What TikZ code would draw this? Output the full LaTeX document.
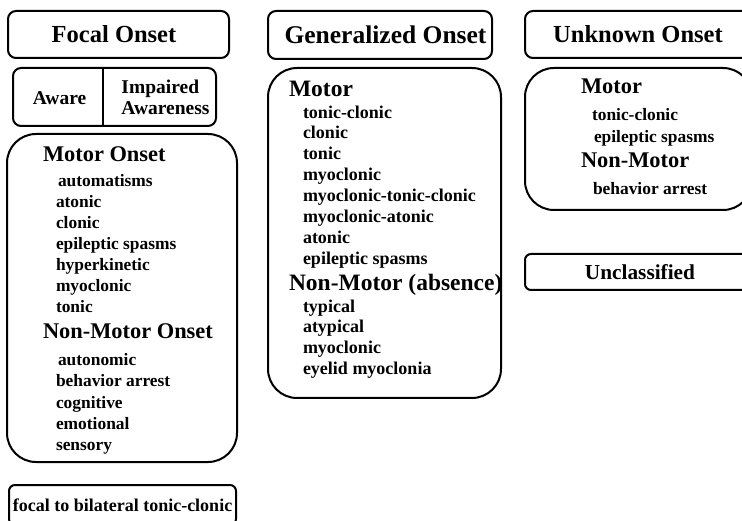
\documentclass[tikz,border=0pt]{standalone}
\usepackage{fontspec}
\setmainfont{Liberation Serif}
\usepackage{tikz}
\usetikzlibrary{positioning}

\newcommand{\sz}[1]{\fontsize{#1}{#1}\selectfont\bfseries}

\begin{document}
\begin{tikzpicture}[x=1pt, y=-1pt, line width=2pt]
        \tikzstyle{title} = [rectangle, draw, rounded corners=8pt, inner sep=0pt, font=\sz{24.5}]
        \tikzstyle{group} = [rectangle, draw, rounded corners=29pt, inner sep=0pt]
        \tikzstyle{head} = [anchor=base west, inner sep=0pt, font=\sz{22.4}]
        \tikzstyle{item} = [anchor=base west, inner sep=0pt, font=\sz{17.4}]

        \useasboundingbox (0,0) rectangle (742,521);
        \clip (0,0) rectangle (742,521);

        % onset headers
        \node [title, minimum width=221pt, minimum height=47pt] (focal) at (118.5,34.5) {Focal Onset\kern9pt};
        \node [title, minimum width=224pt, minimum height=48pt, font=\sz{25.5}] (gen) at (380,35) {\hspace{11pt}Generalized Onset};
        \node [title, minimum width=226pt, minimum height=47pt] (unk) at (638,34.5) {Unknown Onset};

        % awareness
        \node [rectangle, draw, rounded corners=8pt, minimum width=203pt, minimum height=58pt] (aw) at (114.5,97) {};
        \draw ([xshift=-11.5pt]aw.north) -- ([xshift=-11.5pt]aw.south);
        \node [inner sep=0pt, font=\sz{19.5}] (aware) at (59.5,98) {Aware};
        \node [inner sep=0pt, align=left, font=\fontsize{19.5}{21}\selectfont\bfseries] (impaired) at (165.5,97.5) {Impaired\\Awareness};

        % focal groups
        \node [group, minimum width=230pt, minimum height=328pt] (fbox) at (122,298) {};
        \node [head] (fmotor) at (42,161.7) {Motor Onset};
        \foreach \txt [count=\i] in {\hspace{2pt}automatisms, atonic, clonic, epileptic spasms, hyperkinetic, myoclonic, tonic}
            \node [item] (fm\i) at (55,166.1+20.9*\i) {\txt};
        \node [head] (fnon) at (42,339) {Non-Motor Onset};
        \foreach \txt [count=\i] in {\hspace{2pt}autonomic, behavior arrest, cognitive, emotional, sensory}
            \node [item] (fn\i) at (55,345+21*\i) {\txt};

        \node [rectangle, draw, rounded corners=6pt, minimum width=227pt, minimum height=40pt, font=\sz{18}] (bilat) at (122.5,505) {focal to bilateral tonic-clonic};

        % generalized groups
        \node [group, minimum width=233pt, minimum height=330pt] (gbox) at (384.5,233) {};
        \node [head, font=\sz{23.5}] (gmotor) at (288,96.3) {Motor};
        \foreach \txt [count=\i] in {tonic-clonic, clonic, tonic, myoclonic, myoclonic-tonic-clonic, myoclonic-atonic, atonic, epileptic spasms}
            \node [item, font=\sz{18}] (gm\i) at (302,97.2+20.9*\i) {\txt};
        \node [head, font=\sz{23.5}] (gnon) at (288,290.3) {Non-Motor (absence)};
        \foreach \txt [count=\i] in {typical, atypical, myoclonic, eyelid myoclonia}
            \node [item, font=\sz{18}] (gn\i) at (302,291.2+20.9*\i) {\txt};

        % unknown groups
        \node [group, minimum width=227pt, minimum height=142pt] (ubox) at (638.5,139) {};
        \node [head] (umotor) at (580,93.4) {Motor};
        \node [item] (um1) at (591,120.2) {tonic-clonic};
        \node [item] (um2) at (593,142.5) {epileptic spasms};
        \node [head] (unon) at (580,167.7) {Non-Motor};
        \node [item] (un1) at (592,194.5) {behavior arrest};

        \node [rectangle, draw, rounded corners=6pt, minimum width=230pt, minimum height=36pt, font=\sz{21.3}] (uncl) at (640,272) {Unclassified};
    \end{tikzpicture}
\end{document}
